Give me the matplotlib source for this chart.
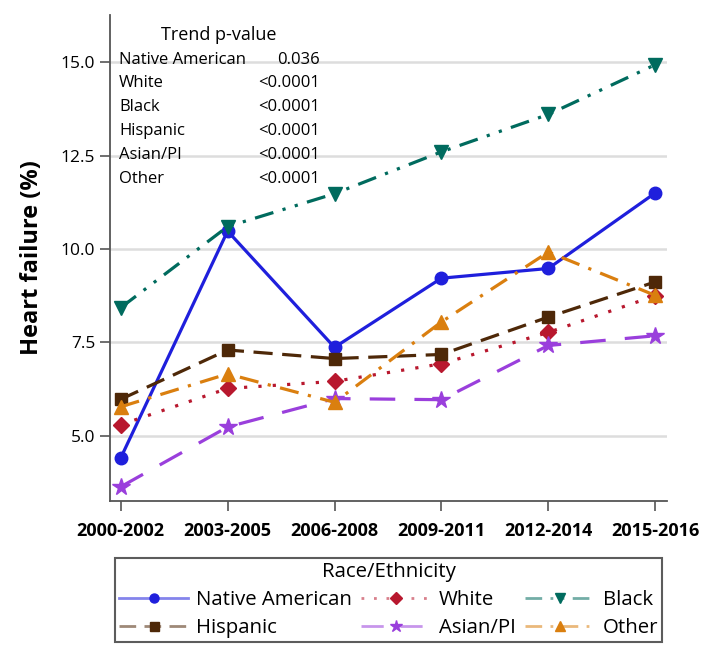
import matplotlib.pyplot as plt
from matplotlib.lines import Line2D
from matplotlib.colors import to_rgba

plt.rcParams['font.family'] = ['Open Sans', 'DejaVu Sans']

periods = ["2000-2002", "2003-2005", "2006-2008", "2009-2011", "2012-2014", "2015-2016"]

native_american = [4.41, 10.48, 7.37, 9.22, 9.48, 11.50]
white = [5.30, 6.27, 6.46, 6.93, 7.77, 8.75]
black = [8.43, 10.60, 11.48, 12.60, 13.60, 14.93]
hispanic = [5.98, 7.30, 7.07, 7.18, 8.18, 9.12]
asian_pi = [3.64, 5.24, 6.00, 5.97, 7.42, 7.68]
other = [5.78, 6.66, 5.90, 8.05, 9.92, 8.76]

p_names = ["Native American", "White", "Black", "Hispanic", "Asian/PI", "Other"]
p_values = ["0.036", "<0.0001", "<0.0001", "<0.0001", "<0.0001", "<0.0001"]

series = [
    ("Native American", native_american, "#1f1fdc", "-", "o", 9),
    ("White", white, "#b8182e", (0, (1, 3.5)), "D", 8),
    ("Black", black, "#006b5e", (0, (6, 3, 1, 3, 1, 3)), "v", 10),
    ("Hispanic", hispanic, "#4e2808", (0, (6, 3)), "s", 9),
    ("Asian/PI", asian_pi, "#9a3fdc", (0, (8, 6)), "*", 13),
    ("Other", other, "#da7f0f", (0, (6, 3, 1, 3)), "^", 10),
]

W, H = 705, 656
fig = plt.figure(figsize=(W / 100, H / 100), dpi=100)
ax = fig.add_axes([110 / W, 1 - 501 / H, 557 / W, 486 / H])

x = list(range(len(periods)))
handles = {}
for name, vals, col, ls, mk, ms in series:
    ax.plot(x, vals, color=col, linestyle=ls, linewidth=2.3, marker=mk,
            markersize=ms, markeredgecolor=col, markerfacecolor=col)
    handles[name] = Line2D([], [], color=to_rgba(col, 0.55), linestyle=ls,
                           linewidth=2, marker=mk, markersize=ms * 0.72,
                           markerfacecolor=col, markeredgecolor=col)

ax.set_xlim(-0.1, 5.11)
ax.set_ylim(3.26, 16.26)
ax.set_yticks([5.0, 7.5, 10.0, 12.5, 15.0])
ax.set_yticklabels(["5.0", "7.5", "10.0", "12.5", "15.0"], fontsize=12.5)
ax.set_xticks(x)
ax.set_xticklabels(periods, fontsize=13, fontweight="bold")
ax.tick_params(direction="out", length=7, width=1.2, color="#555555")
ax.tick_params(axis="x", pad=8)
ax.grid(axis="y", color="#dddddd", linewidth=1.8)
ax.set_axisbelow(True)
for side in ["top", "right"]:
    ax.spines[side].set_visible(False)
for side in ["left", "bottom"]:
    ax.spines[side].set_color("#555555")
    ax.spines[side].set_linewidth(1.3)
ax.set_ylabel("Heart failure (%)", fontsize=17, fontweight="bold", labelpad=12)

# p-value table in the upper left corner (figure pixel positions)
ax.text(219 / W, 1 - 35 / H, "Trend p-value", fontsize=13, ha="center",
        va="center", transform=fig.transFigure)
row_y = [60, 83, 107, 131, 155, 179]
for ry, nm, pv in zip(row_y, p_names, p_values):
    ax.text(119 / W, 1 - ry / H, nm, fontsize=12, ha="left", va="center",
            transform=fig.transFigure)
    ax.text(320 / W, 1 - ry / H, pv, fontsize=12, ha="right", va="center",
            transform=fig.transFigure)

order = ["Native American", "Hispanic", "White", "Asian/PI", "Black", "Other"]
leg = fig.legend([handles[n] for n in order], order, ncol=3, title="Race/Ethnicity",
                 loc="center", bbox_to_anchor=(388.5 / W, 1 - 600 / H),
                 fontsize=14.7, title_fontsize=14.7, frameon=True, fancybox=False,
                 edgecolor="#333333", handlelength=3.4, columnspacing=0.45,
                 handletextpad=0.4, labelspacing=0.4, borderpad=0.2)
leg.get_frame().set_linewidth(1.5)

fig.savefig("out.png", dpi=100)
